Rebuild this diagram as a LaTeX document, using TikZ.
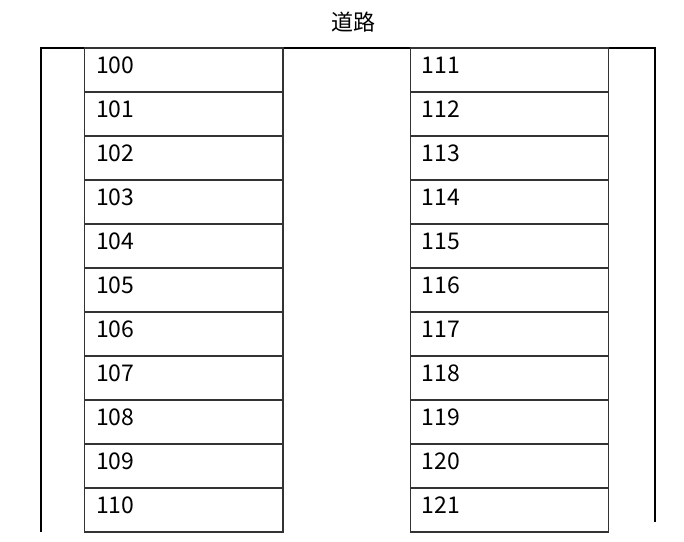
\documentclass[tikz,border=0pt]{standalone}
\usepackage{fontspec}
\setmainfont{Noto Sans CJK JP}
\begin{document}
\begin{tikzpicture}[x=1pt,y=-1pt,
  lot/.style={draw=black!80, line width=1.1pt, minimum width=198.5pt, minimum height=44pt,
    inner xsep=11.5pt, inner ysep=0pt, text width=175.5pt, align=left,
    text height=17pt, text depth=9.4pt, font=\fontsize{23}{23}\selectfont},
  road/.style={draw=black, line width=2pt},
  title/.style={font=\fontsize{22}{22}\selectfont, inner sep=0pt}]
\useasboundingbox (0,0) rectangle (684,541);
\node[title] (t) at (353,22) {道路};
\coordinate (lb) at (41,532);
\coordinate (lt) at (41,48);
\coordinate (rt) at (655,48);
\coordinate (rb) at (655,522);
\draw[road] (lb) -- (lt) -- (rt) -- (rb);
\foreach \i in {0,...,10}{
  \pgfmathtruncatemacro{\a}{100+\i}
  \pgfmathtruncatemacro{\b}{111+\i}
  \node[lot] (l\i) at (183.75,{70+44*\i}) {\a};
  \node[lot] (r\i) at (509.5,{70+44*\i}) {\b};
}
\end{tikzpicture}
\end{document}
